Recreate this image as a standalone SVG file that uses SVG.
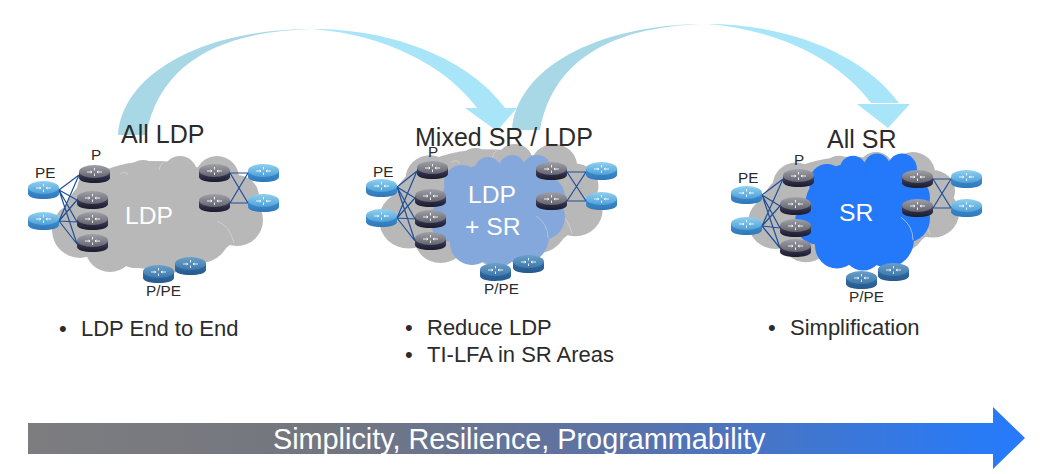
<svg xmlns="http://www.w3.org/2000/svg" xmlns:xlink="http://www.w3.org/1999/xlink" width="1049" height="474" viewBox="0 0 1049 474">
<style>
text{font-family:"Liberation Sans",Arial,sans-serif;fill:#2b2b2b}
.title{font-size:25px}
.lab{font-size:15.300px}
.bul{font-size:22px}
.in{font-size:24.700px;fill:#fff}
.mesh{stroke:#1f4f96;stroke-width:1.200;fill:none}
.lobe{stroke:#d4d4d4;stroke-width:.800;fill:none}
.lobeB{stroke:#b4c8ea;stroke-width:.800;fill:none}
.ar{stroke:#fff;stroke-width:1;stroke-opacity:.85;fill:none}
</style>
<defs>
<linearGradient id="dk" x1="0" y1="0" x2="0" y2="1"><stop offset="0" stop-color="#4c4c66"/><stop offset=".55" stop-color="#2b2b45"/><stop offset="1" stop-color="#1c1c2c"/></linearGradient>
<linearGradient id="dkT" x1="0" y1="0" x2="0" y2="1"><stop offset="0" stop-color="#a0a0a8"/><stop offset="1" stop-color="#64646f"/></linearGradient>
<linearGradient id="bl" x1="0" y1="0" x2="0" y2="1"><stop offset="0" stop-color="#3f8fd0"/><stop offset="1" stop-color="#2f78b8"/></linearGradient>
<linearGradient id="blT" x1="0" y1="0" x2="0" y2="1"><stop offset="0" stop-color="#8fd0f0"/><stop offset="1" stop-color="#4fa0d8"/></linearGradient>
<linearGradient id="md" x1="0" y1="0" x2="0" y2="1"><stop offset="0" stop-color="#2f6ea8"/><stop offset="1" stop-color="#28598c"/></linearGradient>
<linearGradient id="mdT" x1="0" y1="0" x2="0" y2="1"><stop offset="0" stop-color="#6aa0c8"/><stop offset="1" stop-color="#3f78ac"/></linearGradient>
<linearGradient id="bar" x1="0" y1="0" x2="1" y2="0"><stop offset="0" stop-color="#7d7d80"/><stop offset=".3" stop-color="#73767f"/><stop offset=".6" stop-color="#5a72a8"/><stop offset=".95" stop-color="#2a7af5"/><stop offset="1" stop-color="#267afc"/></linearGradient>
<g id="arrows"><path class="ar" d="M8 7H13M18 7H23M15.500 3V5.500M15.500 8.500V11M13 7l-1.500-1M13 7l-1.500 1M18 7l1.500-1M18 7l1.500 1"/></g>
<g id="rD"><path d="M0 7V13C0 16 7 18 15.500 18S31 16 31 13V7Z" fill="url(#dk)"/><ellipse cx="15.500" cy="6.500" rx="15.500" ry="6.500" fill="url(#dkT)"/><use href="#arrows"/></g>
<g id="rB"><path d="M0 7V13C0 16 7 18 15.500 18S31 16 31 13V7Z" fill="url(#bl)"/><ellipse cx="15.500" cy="6.500" rx="15.500" ry="6.500" fill="url(#blT)"/><use href="#arrows"/></g>
<g id="rM"><path d="M0 7V13C0 16 7 18 15.500 18S31 16 31 13V7Z" fill="url(#md)"/><ellipse cx="15.500" cy="6.500" rx="15.500" ry="6.500" fill="url(#mdT)"/><use href="#arrows"/></g>
<g id="greyCloud" fill="#b8b8b8">
<ellipse cx="155" cy="215" rx="90" ry="54"/>
<circle cx="100" cy="190" r="23"/><circle cx="143" cy="177" r="17"/><circle cx="180" cy="173" r="17"/><circle cx="217" cy="178" r="22"/><circle cx="237" cy="197" r="22"/><circle cx="237" cy="220" r="26"/><circle cx="80" cy="230" r="28"/><circle cx="110" cy="247" r="25"/><circle cx="163" cy="253" r="23"/><circle cx="200" cy="233" r="30"/><circle cx="135" cy="250" r="18"/>
<path class="lobe" d="M120 174Q126 170 128 175M159 170Q160 164 163 163M217 221Q230 226 234 243M192 257Q192 262 191 265"/>
</g>
<g id="blueCloud">
<ellipse cx="495" cy="205" rx="55" ry="42"/>
<circle cx="462" cy="183" r="18"/><circle cx="488" cy="170" r="13"/><circle cx="512" cy="168" r="13"/><circle cx="537" cy="170" r="15"/><circle cx="545" cy="197" r="20"/><circle cx="542" cy="217" r="23"/><circle cx="522" cy="237" r="27"/><circle cx="472" cy="243" r="22"/><circle cx="498" cy="247" r="20"/><circle cx="452" cy="220" r="22"/><circle cx="455" cy="197" r="13"/>
<path class="lobeB" d="M536 216Q548 224 548 238"/>
</g>
<g id="sweep">
<path fill="#a8d8e6" d="M118 135C122 75 200 29 313 29C225 31 160 60 146 135Z"/>
</g>
<g id="sweepR">
<path fill="#a9e5f8" d="M313 29C395 29 470 60 505 108L477 108C445 65 385 35 313 29Z"/>
</g>
</defs>

<g id="flow-arrows">
<use href="#sweep"/><use href="#sweepR"/>
<polygon fill="#a9e5f8" points="465,108 517,108 497,131"/>
<use href="#sweepR" transform="translate(394,-5)"/>
<polygon fill="#a9e5f8" points="857,104 910,104 888,128"/>
<use href="#sweep" transform="translate(394,-5)"/>
</g>

<g id="cloud-ldp"><use href="#greyCloud"/></g>
<g id="cloud-mixed"><use href="#greyCloud" transform="translate(323.900,-15.900) scale(1.060,1.025)"/><use href="#blueCloud" fill="#84a8dc"/></g>
<g id="cloud-sr"><use href="#greyCloud" transform="translate(696,3.850) scale(1,.95)"/><use href="#blueCloud" fill="#2478fa" transform="translate(365,-5.300) scale(1,1.045) translate(0,-3)"/></g>

<g id="connectors">
<path class="mesh" d="M59 190L79 175M59 190L77 200M59 190L77 222M59 190L77 244M59 221L79 175M59 221L77 200M59 221L77 222M59 221L77 244"/>
<path class="mesh" d="M230 173H248M230 203H248M230 173L248 203M230 203L248 173"/>
<path class="mesh" d="M397 187L417 171M397 187L415 198M397 187L415 219M397 187L415 241M397 218L417 171M397 218L415 198M397 218L415 219M397 218L415 241"/>
<path class="mesh" d="M567 172H586M567 201H586M567 172L586 201M567 201L586 172"/>
<path class="mesh" d="M762 195L783 179M762 195L780 206M762 195L780 228M762 195L780 248M762 226L783 179M762 226L780 206M762 226L780 228M762 226L780 248"/>
<path class="mesh" d="M933 179H951M933 208H951M933 179L951 208M933 208L951 179"/>
</g>

<g id="s1-pe1"><use href="#rB" x="28" y="181"/></g>
<g id="s1-pe2"><use href="#rB" x="28" y="212"/></g>
<g id="s1-p1"><use href="#rD" x="79" y="165"/></g>
<g id="s1-p2"><use href="#rD" x="77" y="191"/></g>
<g id="s1-p3"><use href="#rD" x="77" y="212"/></g>
<g id="s1-p4"><use href="#rD" x="77" y="234"/></g>
<g id="s1-r1"><use href="#rD" x="199" y="164"/></g>
<g id="s1-r2"><use href="#rD" x="199" y="194"/></g>
<g id="s1-e1"><use href="#rB" x="248" y="164"/></g>
<g id="s1-e2"><use href="#rB" x="248" y="194"/></g>
<g id="s1-ppe2"><use href="#rM" x="175" y="257"/></g>
<g id="s1-ppe1"><use href="#rM" x="143" y="265"/></g>

<g id="s2-pe1"><use href="#rB" x="366" y="179"/></g>
<g id="s2-pe2"><use href="#rB" x="366" y="209"/></g>
<g id="s2-p1"><use href="#rD" x="417" y="161"/></g>
<g id="s2-p2"><use href="#rD" x="415" y="189"/></g>
<g id="s2-p3"><use href="#rD" x="415" y="210"/></g>
<g id="s2-p4"><use href="#rD" x="415" y="232"/></g>
<g id="s2-r1"><use href="#rD" x="536" y="162"/></g>
<g id="s2-r2"><use href="#rD" x="536" y="192"/></g>
<g id="s2-e1"><use href="#rB" x="586" y="162"/></g>
<g id="s2-e2"><use href="#rB" x="586" y="192"/></g>
<g id="s2-ppe2"><use href="#rM" x="513" y="255"/></g>
<g id="s2-ppe1"><use href="#rM" x="480" y="263"/></g>

<g id="s3-pe1"><use href="#rB" x="731" y="186"/></g>
<g id="s3-pe2"><use href="#rB" x="731" y="217"/></g>
<g id="s3-p1"><use href="#rD" x="783" y="169"/></g>
<g id="s3-p2"><use href="#rD" x="780" y="197"/></g>
<g id="s3-p3"><use href="#rD" x="780" y="219"/></g>
<g id="s3-p4"><use href="#rD" x="780" y="239"/></g>
<g id="s3-r1"><use href="#rD" x="902" y="170"/></g>
<g id="s3-r2"><use href="#rD" x="902" y="199"/></g>
<g id="s3-e1"><use href="#rB" x="951" y="170"/></g>
<g id="s3-e2"><use href="#rB" x="951" y="199"/></g>
<g id="s3-ppe2"><use href="#rM" x="878" y="263"/></g>
<g id="s3-ppe1"><use href="#rM" x="846" y="271"/></g>

<g id="labels">
<text class="title" x="121" y="143">All LDP</text>
<text class="title" x="415" y="146">Mixed SR / LDP</text>
<text class="title" x="827" y="148">All SR</text>
<text class="lab" x="35" y="178">PE</text><text class="lab" x="91" y="160">P</text><text class="lab" x="146" y="296">P/PE</text>
<text class="lab" x="373" y="177">PE</text><text class="lab" x="428" y="157">P</text><text class="lab" x="484" y="294">P/PE</text>
<text class="lab" x="738" y="183">PE</text><text class="lab" x="794" y="165">P</text><text class="lab" x="849" y="302">P/PE</text>
<text class="in" x="125" y="224">LDP</text>
<text class="in" x="468" y="203">LDP</text>
<text class="in" x="465" y="235">+ SR</text>
<text class="in" x="839" y="221">SR</text>
<text class="bul" x="59" y="336">•</text><text class="bul" x="81" y="336">LDP End to End</text>
<text class="bul" x="405" y="335">•</text><text class="bul" x="427" y="335">Reduce LDP</text>
<text class="bul" x="405" y="362">•</text><text class="bul" x="427" y="362">TI-LFA in SR Areas</text>
<text class="bul" x="768" y="335">•</text><text class="bul" x="790" y="335">Simplification</text>
</g>

<g id="progress">
<polygon fill="url(#bar)" points="28,423 993,423 993,407 1025,438 993,469 993,454 28,454"/>
<text x="273" y="449" style="font-size:28.800px;fill:#fff">Simplicity, Resilience, Programmability</text>
</g>
</svg>
